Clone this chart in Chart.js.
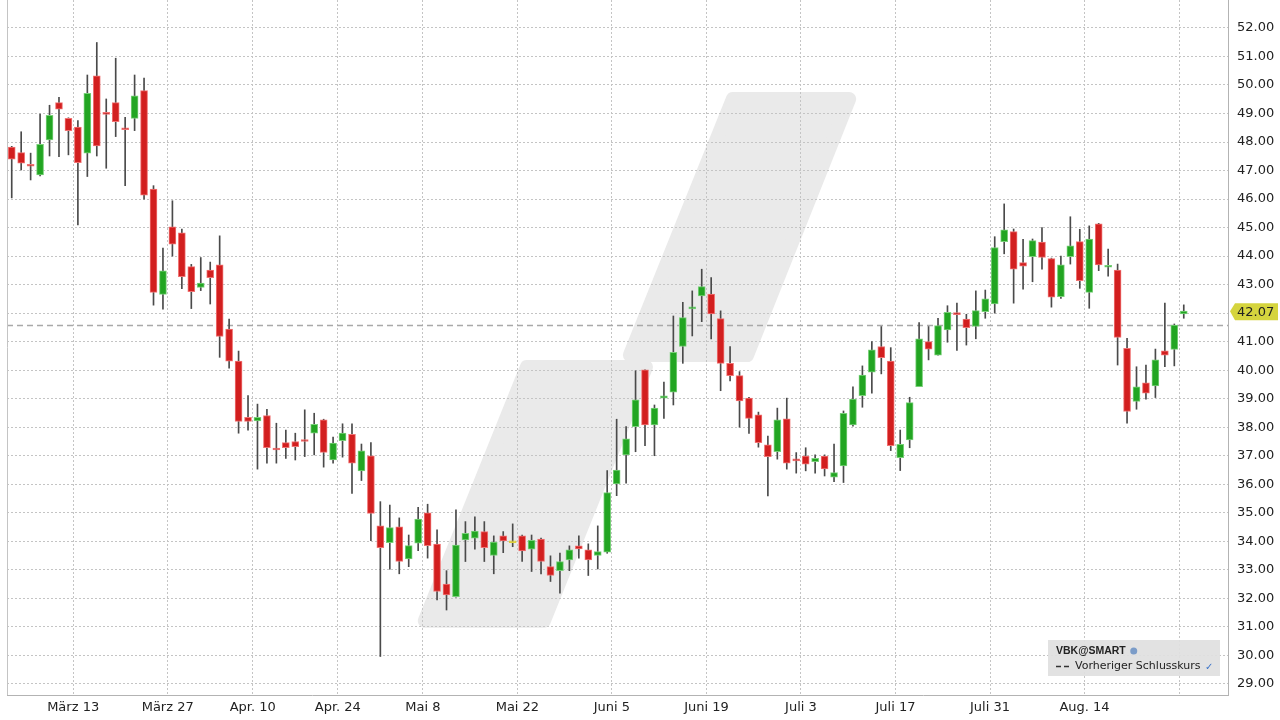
<!DOCTYPE html>
<html lang="de">
<head>
<meta charset="UTF-8">
<title>VBK@SMART Kerzenchart</title>
<script src="https://cdn.jsdelivr.net/npm/chart.js@4.4.0/dist/chart.umd.min.js"></script>
<style>
  html, body { margin: 0; padding: 0; background: #fff; }
  canvas { display: block; }
</style>
</head>
<body>
<canvas id="chart" width="1280" height="720"></canvas>
<script>
// Tageskerzen (Handelstage, 0 = 2. März)
const opens = [
  47.82, 47.63, 47.22, 46.85, 48.07, 49.38, 48.83, 48.52, 47.61, 50.32,
  49.00, 49.38, 48.48, 48.83, 49.80, 46.35, 42.66, 45.03, 44.82, 43.63,
  42.90, 43.51, 43.69, 41.44, 40.32, 38.35, 38.22, 38.41, 37.24, 37.46,
  37.50, 37.54, 37.79, 38.26, 36.85, 37.53, 37.75, 36.47, 37.00, 34.54,
  33.95, 34.51, 33.38, 33.93, 35.00, 33.90, 32.50, 32.06, 34.05, 34.11,
  34.34, 33.50, 34.19, 33.95, 34.19, 33.72, 34.08, 33.11, 32.97, 33.35,
  33.84, 33.70, 33.50, 33.62, 36.01, 37.03, 38.02, 40.01, 38.08, 39.02,
  39.23, 40.83, 42.15, 42.60, 42.67, 41.81, 40.24, 39.81, 39.02, 38.43,
  37.38, 37.14, 38.29, 36.86, 36.99, 36.79, 36.99, 36.25, 36.64, 38.08,
  39.11, 39.93, 40.83, 40.32, 36.93, 37.55, 39.42, 41.00, 40.53, 41.41,
  42.02, 41.79, 41.53, 42.05, 42.32, 44.51, 44.86, 43.77, 43.98, 44.49,
  43.91, 42.58, 43.98, 44.51, 42.73, 45.13, 43.61, 43.51, 40.77, 38.90,
  39.56, 39.45, 40.68, 40.73, 41.97
];
const highs = [
  47.85, 48.36, 47.61, 48.98, 49.29, 49.57, 48.85, 48.75, 50.35, 51.49,
  49.51, 50.94, 48.87, 50.35, 50.24, 46.47, 44.28, 45.94, 44.95, 43.71,
  43.95, 43.79, 44.71, 41.79, 40.67, 39.11, 38.81, 38.63, 38.14, 37.90,
  37.79, 38.61, 38.49, 38.28, 37.65, 38.12, 38.12, 37.41, 37.46, 35.39,
  35.27, 34.82, 34.22, 35.19, 35.30, 34.40, 32.97, 35.10, 34.69, 34.86,
  34.69, 34.19, 34.34, 34.61, 34.22, 34.22, 34.11, 33.49, 33.59, 33.84,
  34.19, 33.91, 34.54, 36.48, 38.28, 38.02, 39.98, 40.01, 38.78, 39.58,
  41.90, 42.38, 42.78, 43.54, 43.25, 42.08, 40.83, 39.95, 39.05, 38.53,
  37.69, 38.67, 39.02, 37.11, 37.28, 37.03, 37.03, 37.41, 38.57, 39.42,
  40.15, 41.00, 41.53, 40.79, 37.90, 39.05, 41.67, 41.53, 41.82, 42.26,
  42.35, 41.96, 42.78, 42.81, 44.68, 45.83, 44.95, 44.59, 44.60, 45.00,
  43.93, 44.00, 45.38, 44.94, 45.06, 45.15, 44.25, 43.72, 41.12, 40.12,
  40.18, 40.74, 42.35, 41.62, 42.29
];
const lows = [
  46.04, 47.02, 46.67, 46.81, 47.51, 47.49, 47.55, 45.09, 46.79, 47.51,
  47.08, 48.19, 46.47, 48.40, 46.00, 42.28, 42.14, 44.00, 42.86, 42.16,
  42.79, 42.32, 40.45, 40.07, 37.79, 37.90, 36.53, 36.74, 36.74, 36.91,
  36.85, 36.97, 37.03, 36.60, 36.74, 36.95, 35.68, 36.13, 34.02, 29.96,
  33.02, 32.86, 33.11, 33.67, 33.41, 31.94, 31.59, 32.04, 33.29, 33.72,
  33.29, 32.86, 33.60, 33.81, 33.29, 32.94, 32.86, 32.59, 32.18, 32.97,
  33.41, 32.80, 33.03, 33.58, 35.60, 36.04, 37.14, 37.35, 37.00, 38.31,
  38.78, 40.24, 41.20, 41.70, 41.10, 39.28, 39.62, 38.00, 37.78, 37.30,
  35.59, 36.88, 36.53, 36.39, 36.47, 36.39, 36.29, 36.09, 36.06, 38.04,
  38.70, 39.19, 39.87, 37.18, 36.48, 37.28, 39.42, 40.36, 40.53, 40.98,
  40.69, 40.88, 41.10, 41.82, 42.00, 44.08, 42.35, 42.84, 43.10, 43.54,
  42.21, 42.52, 43.72, 42.87, 42.17, 43.49, 43.30, 40.18, 38.14, 38.63,
  38.98, 39.04, 40.12, 40.15, 41.82
];
const closes = [
  47.40, 47.26, 47.15, 47.92, 48.94, 49.15, 48.40, 47.28, 49.71, 47.86,
  48.97, 48.71, 48.43, 49.62, 46.14, 42.73, 43.48, 44.42, 43.28, 42.75,
  43.05, 43.24, 41.18, 40.32, 38.20, 38.20, 38.35, 37.28, 37.20, 37.28,
  37.32, 37.50, 38.10, 37.12, 37.44, 37.79, 36.74, 37.17, 34.98, 33.78,
  34.48, 33.29, 33.85, 34.78, 33.85, 32.24, 32.12, 33.87, 34.28, 34.36,
  33.78, 33.97, 34.01, 33.95, 33.66, 34.03, 33.29, 32.80, 33.29, 33.70,
  33.73, 33.35, 33.64, 35.71, 36.50, 37.59, 38.96, 38.08, 38.67, 39.10,
  40.63, 41.84, 42.19, 42.93, 41.97, 40.24, 39.81, 38.92, 38.31, 37.46,
  36.97, 38.26, 36.74, 36.82, 36.70, 36.91, 36.54, 36.41, 38.49, 38.99,
  39.83, 40.71, 40.44, 37.35, 37.40, 38.86, 41.10, 40.74, 41.56, 42.03,
  41.95, 41.49, 42.09, 42.50, 44.30, 44.92, 43.54, 43.65, 44.54, 43.95,
  42.56, 43.69, 44.36, 43.14, 44.60, 43.69, 43.65, 41.15, 38.55, 39.42,
  39.19, 40.36, 40.53, 41.58, 42.07
];

// Achsenbeschriftung: erster Handelstag der jeweiligen Woche
const tickDays = [7, 17, 26, 35, 44, 54, 64, 74, 84, 94, 104, 114, 124];
const tickLabels = ['März 13', 'März 27', 'Apr. 10', 'Apr. 24', 'Mai 8', 'Mai 22',
  'Juni 5', 'Juni 19', 'Juli 3', 'Juli 17', 'Juli 31', 'Aug. 14', ''];
const yTicks = [29, 30, 31, 32, 33, 34, 35, 36, 37, 38, 39, 40,
  41, 42, 43, 44, 45, 46, 47, 48, 49, 50, 51, 52];
const prevClose = 41.58;
const lastClose = closes[closes.length - 1];

const UP = '#22a522', UP_EDGE = '#79d079';
const DOWN = '#d21f1f', DOWN_EDGE = '#f07373';
const FLAT = '#ded03c';
const FONT = 'DejaVu Sans';

const days = opens.map((o, i) => i);
const bodyColor = days.map(i => closes[i] > opens[i] ? UP : closes[i] < opens[i] ? DOWN : FLAT);
const edgeColor = days.map(i => closes[i] > opens[i] ? UP_EDGE : closes[i] < opens[i] ? DOWN_EDGE : FLAT);

// Hintergrund-Logo (in Achsenkoordinaten: Handelstag, Kurs)
const logoParts = [
  [[43.7, 31.21], [56.3, 31.21], [67.1, 40.11], [54.5, 40.11]],
  [[65.4, 40.53], [77.8, 40.53], [88.6, 49.51], [76.3, 49.51]]
];

const extras = {
  id: 'extras',
  beforeDraw(chart) {
    const { ctx, chartArea: a, scales: { x, y } } = chart;
    ctx.save();
    ctx.fillStyle = '#fff';
    ctx.fillRect(0, 0, chart.width, chart.height);
    ctx.beginPath();
    ctx.rect(a.left, a.top, a.right - a.left, a.bottom - a.top);
    ctx.clip();
    ctx.fillStyle = '#eaeaea';
    ctx.strokeStyle = '#eaeaea';
    ctx.lineWidth = 14;
    ctx.lineJoin = 'round';
    logoParts.forEach(part => {
      ctx.beginPath();
      part.forEach(([d, v], k) => {
        const px = x.getPixelForValue(d), py = y.getPixelForValue(v);
        if (k === 0) ctx.moveTo(px, py); else ctx.lineTo(px, py);
      });
      ctx.closePath();
      ctx.fill();
      ctx.stroke();
    });
    ctx.restore();
  },
  beforeDatasetsDraw(chart) {
    const { ctx, chartArea: a, scales: { y } } = chart;
    const py = Math.round(y.getPixelForValue(prevClose)) + 0.5;
    ctx.save();
    ctx.strokeStyle = '#a9a9a9';
    ctx.lineWidth = 1.5;
    ctx.setLineDash([6, 4]);
    ctx.beginPath();
    ctx.moveTo(a.left, py);
    ctx.lineTo(a.right, py);
    ctx.stroke();
    ctx.restore();
  },
  afterDraw(chart) {
    const { ctx, chartArea: a, scales: { y } } = chart;
    ctx.save();
    // linke Begrenzung
    ctx.strokeStyle = '#c4c4c4';
    ctx.lineWidth = 1;
    ctx.beginPath();
    ctx.moveTo(Math.round(a.left) + 0.5, a.top);
    ctx.lineTo(Math.round(a.left) + 0.5, a.bottom);
    ctx.stroke();

    // Kursmarke letzter Kurs
    const py = y.getPixelForValue(lastClose);
    ctx.fillStyle = '#d5d43e';
    ctx.beginPath();
    ctx.moveTo(a.right + 2, py);
    ctx.lineTo(a.right + 7, py - 8);
    ctx.lineTo(a.right + 50, py - 8);
    ctx.lineTo(a.right + 50, py + 9);
    ctx.lineTo(a.right + 7, py + 9);
    ctx.closePath();
    ctx.fill();
    ctx.fillStyle = '#222';
    ctx.font = '13px "' + FONT + '"';
    ctx.textBaseline = 'middle';
    ctx.textAlign = 'left';
    ctx.fillText(lastClose.toFixed(2), a.right + 9, py + 1);

    // Legende
    const lx = a.right - 180, ly = a.bottom - 55;
    ctx.fillStyle = 'rgba(224,224,224,0.92)';
    ctx.fillRect(lx, ly, 172, 36);
    ctx.fillStyle = '#222';
    ctx.font = 'bold 10.5px "Liberation Sans"';
    ctx.fillText('VBK@SMART', lx + 8, ly + 11);
    const tw = ctx.measureText('VBK@SMART').width;
    ctx.fillStyle = '#7b9cc8';
    ctx.beginPath();
    ctx.arc(lx + 8 + tw + 8, ly + 11, 3.5, 0, Math.PI * 2);
    ctx.fill();
    ctx.strokeStyle = '#333';
    ctx.lineWidth = 1.5;
    ctx.beginPath();
    ctx.moveTo(lx + 8, ly + 26.5); ctx.lineTo(lx + 13, ly + 26.5);
    ctx.moveTo(lx + 16, ly + 26.5); ctx.lineTo(lx + 21, ly + 26.5);
    ctx.stroke();
    ctx.fillStyle = '#222';
    ctx.font = '11px "' + FONT + '"';
    ctx.fillText('Vorheriger Schlusskurs', lx + 27, ly + 26);
    ctx.fillStyle = '#3b74c9';
    ctx.font = 'bold 10px "' + FONT + '"';
    ctx.fillText('\u2713', lx + 157, ly + 27);
    ctx.restore();
  }
};

new Chart(document.getElementById('chart'), {
  type: 'bar',
  data: {
    datasets: [
      {
        label: 'Körper',
        order: 0,
        data: days.map(i => ({ x: i, y: [opens[i], closes[i]] })),
        backgroundColor: bodyColor,
        borderColor: edgeColor,
        borderWidth: 1,
        borderSkipped: false,
        barThickness: 7,
        minBarLength: 2,
        grouped: false
      },
      {
        label: 'Docht',
        order: 1,
        data: days.map(i => ({ x: i, y: [lows[i], highs[i]] })),
        backgroundColor: '#4a4a4a',
        borderWidth: 0,
        barThickness: 1,
        grouped: false
      }
    ]
  },
  options: {
    responsive: false,
    animation: false,
    layout: { padding: { left: 7, top: 0, right: 0, bottom: 0 } },
    plugins: {
      legend: { display: false },
      tooltip: { enabled: false }
    },
    scales: {
      x: {
        type: 'linear',
        min: -0.5,
        max: 128.68,
        offset: false,
        afterBuildTicks: s => { s.ticks = tickDays.map(d => ({ value: d - 0.5 })); },
        afterFit: s => { s.height = 25; s.paddingLeft = 0; s.paddingRight = 0; },
        ticks: {
          autoSkip: false,
          maxRotation: 0,
          padding: 5,
          color: '#222',
          font: { family: FONT, size: 13 },
          callback: (v, i) => tickLabels[i]
        },
        grid: { color: '#c4c4c4', drawTicks: false, offset: false },
        border: { color: '#b3b3b3', dash: [2, 2] }
      },
      y: {
        position: 'right',
        min: 28.61,
        max: 52.98,
        afterBuildTicks: s => { s.ticks = yTicks.map(v => ({ value: v })); },
        afterFit: s => { s.width = 52; s.paddingTop = 0; s.paddingBottom = 0; },
        ticks: {
          padding: 9,
          color: '#222',
          font: { family: FONT, size: 13 },
          callback: v => Math.abs(v - lastClose) < 0.5 ? '' : v.toFixed(2)
        },
        grid: { color: '#c4c4c4', drawTicks: false },
        border: { color: '#b3b3b3', dash: [2, 2] }
      }
    }
  },
  plugins: [extras]
});
</script>
</body>
</html>
